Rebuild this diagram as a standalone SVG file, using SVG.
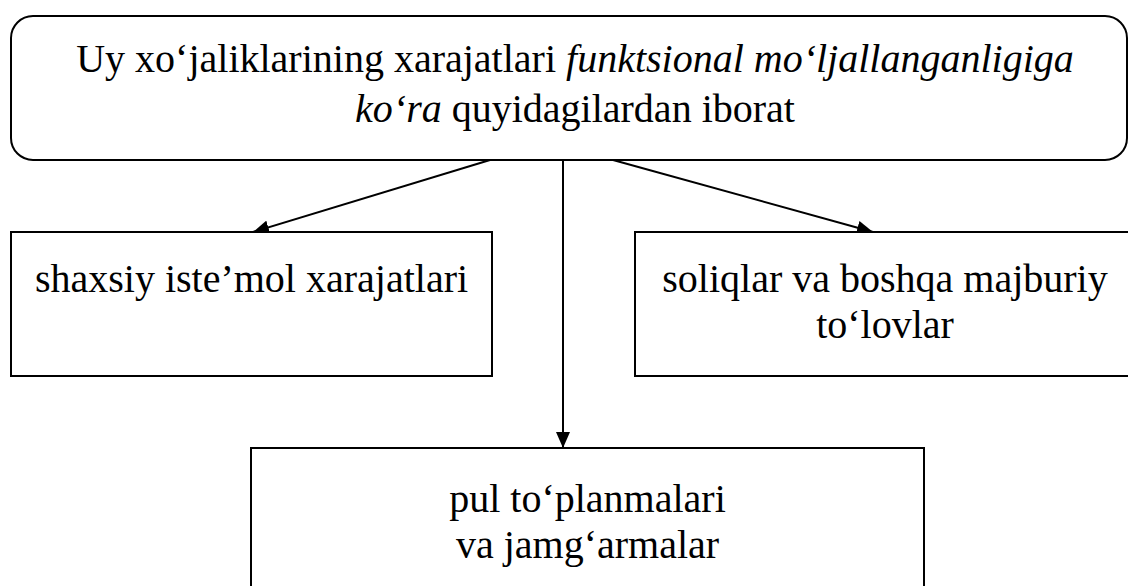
<svg xmlns="http://www.w3.org/2000/svg" width="1128" height="586" viewBox="0 0 1128 586">
<defs>
<marker id="ah" viewBox="0 0 16 14" refX="16" refY="7" markerWidth="16" markerHeight="14" markerUnits="userSpaceOnUse" orient="auto">
<path d="M0,0 L16,7 L0,14 Z" fill="#000"/>
</marker>
<style>
.box{fill:#fff;stroke:#000;stroke-width:2}
.t{font-family:'Liberation Serif','Times New Roman',serif;font-size:40px;fill:#000;text-anchor:middle}
.i{font-style:italic}
.c{stroke:#000;stroke-width:2;fill:none;marker-end:url(#ah)}
</style>
</defs>
<rect width="1128" height="586" fill="#fff"/>
<g id="connectors">
<line class="c" x1="490" y1="160" x2="253" y2="232"/>
<line class="c" x1="563" y1="160" x2="563" y2="448"/>
<line class="c" x1="613" y1="160" x2="873" y2="232"/>
</g>
<g id="top">
<rect class="box" x="11" y="16" width="1116" height="144" rx="22"/>
<text class="t" x="575" y="72">Uy xo‘jaliklarining xarajatlari <tspan class="i">funktsional mo‘ljallanganligiga</tspan></text>
<text class="t" x="575" y="122"><tspan class="i">ko‘ra</tspan> quyidagilardan iborat</text>
</g>
<g id="left">
<rect class="box" x="11" y="232" width="481" height="144"/>
<text class="t" x="251.5" y="292">shaxsiy iste’mol xarajatlari</text>
</g>
<g id="right">
<rect class="box" x="635" y="232" width="500" height="144"/>
<text class="t" x="885" y="292">soliqlar va boshqa majburiy</text>
<text class="t" x="885" y="338">to‘lovlar</text>
</g>
<g id="bottom">
<rect class="box" x="251" y="448" width="673" height="150"/>
<text class="t" x="587.5" y="512">pul to‘planmalari</text>
<text class="t" x="587.5" y="558">va jamg‘armalar</text>
</g>
</svg>
